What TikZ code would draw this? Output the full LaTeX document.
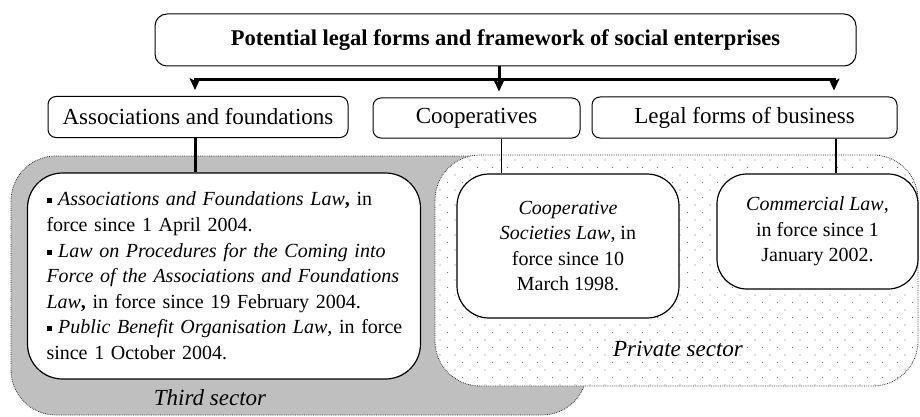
\documentclass[tikz,border=0pt]{standalone}
\usepackage{fontspec}
\setmainfont{Liberation Serif}
\usetikzlibrary{arrows.meta}
\newcommand\sqb{\raisebox{2.5pt}{\rule{5pt}{5pt}}}
\begin{document}
\begin{tikzpicture}[x=1pt,y=-1pt,
  hbox/.style={draw=black, line width=1pt, rounded corners=8pt, fill=white,
    font=\fontsize{23}{27}\selectfont, inner sep=0pt},
  lawbox/.style={draw=black, line width=1.2pt, rounded corners=35pt, fill=white,
    font=\fontsize{20}{25.6}\selectfont, align=center, inner sep=0pt},
  bar/.style={line width=3pt},
  arr/.style={-{Stealth[length=12pt,width=11pt,inset=3pt]}, shorten >=6pt},
  region/.style={densely dotted, line width=0.8pt, draw=black!80, rounded corners=45pt},
  sector/.style={font=\itshape\fontsize{23}{27}\selectfont, inner sep=0pt}
]
\useasboundingbox (0,0) rectangle (920,417);

% sectors
\draw[region, fill=black!25] (11,156) rectangle (587,415);
\draw[region, fill=white] (435,155) rectangle (918,386);
\begin{scope}
  \clip[rounded corners=45pt] (435,155) rectangle (918,386);
  \foreach \y in {160,175,...,385} \foreach \x in {440,455,...,918}
    \fill[black!55] (\x,\y) circle (0.7pt);
  \foreach \y in {167.5,182.5,...,385} \foreach \x in {447.5,462.5,...,918}
    \fill[black!55] (\x,\y) circle (0.7pt);
\end{scope}
\node[sector] (third) at (210,398) {Third sector};
\node[sector] (private) at (678,349) {Private sector};

% header boxes
\node[hbox, rounded corners=12pt, minimum width=701pt, minimum height=52pt,
  font=\bfseries\fontsize{22.5}{27}\selectfont] (top) at (505.5,40)
  {Potential legal forms and framework of social enterprises};
\node[hbox, minimum width=300pt, minimum height=41pt] (assoc) at (198,117)
  {Associations and foundations};
\node[hbox, minimum width=207pt, minimum height=40pt] (coop) at (476.5,118)
  {Cooperatives};
\node[hbox, minimum width=305pt, minimum height=41pt] (legal) at (744.5,117.5)
  {Legal forms of business};

% law boxes
\node[lawbox, minimum width=393pt, minimum height=206pt, text width=355pt, align=left]
  (lawA) at (224,276) {%
  \makebox[355pt][s]{\sqb\ \textit{Associations and Foundations Law}\textbf{,} in}\\
  force since 1 April 2004.\\
  \makebox[355pt][s]{\sqb\ \textit{Law on Procedures for the Coming into}}\\
  \makebox[355pt][s]{\textit{Force of the Associations and Foundations}}\\
  \textit{Law}\textbf{,} in force since 19 February 2004.\\
  \makebox[355pt][s]{\sqb\ \textit{Public Benefit Organisation Law}, in force}\\
  since 1 October 2004.};
\node[lawbox, rounded corners=32pt, minimum width=222pt, minimum height=144pt]
  (lawC) at (568,246) {\textit{Cooperative}\\ \textit{Societies Law}, in\\ force since 10\\ March 1998.};
\node[lawbox, rounded corners=30pt, minimum width=201pt, minimum height=115pt]
  (lawL) at (817.5,231.5) {\textit{Commercial Law},\\ in force since 1\\ January 2002.};

% connectors
\coordinate (bl) at (195,80);
\coordinate (bm) at (499,80);
\coordinate (br) at (834,80);
\draw[bar, arr] (top.south -| bm) -- (bm |- coop.north);
\draw[bar, arr] (bm) -- (bl) -- (bl |- assoc.north);
\draw[bar, arr] (bm) -- (br) -- (br |- legal.north);

\coordinate (vc) at (501,150);
\coordinate (vl) at (836,150);
\draw[bar] (assoc.south -| bl) -- (lawA.north -| bl);
\draw[line width=1pt] (coop.south -| vc) -- (lawC.north -| vc);
\draw[line width=2pt] (legal.south -| vl) -- (lawL.north -| vl);
\end{tikzpicture}
\end{document}
